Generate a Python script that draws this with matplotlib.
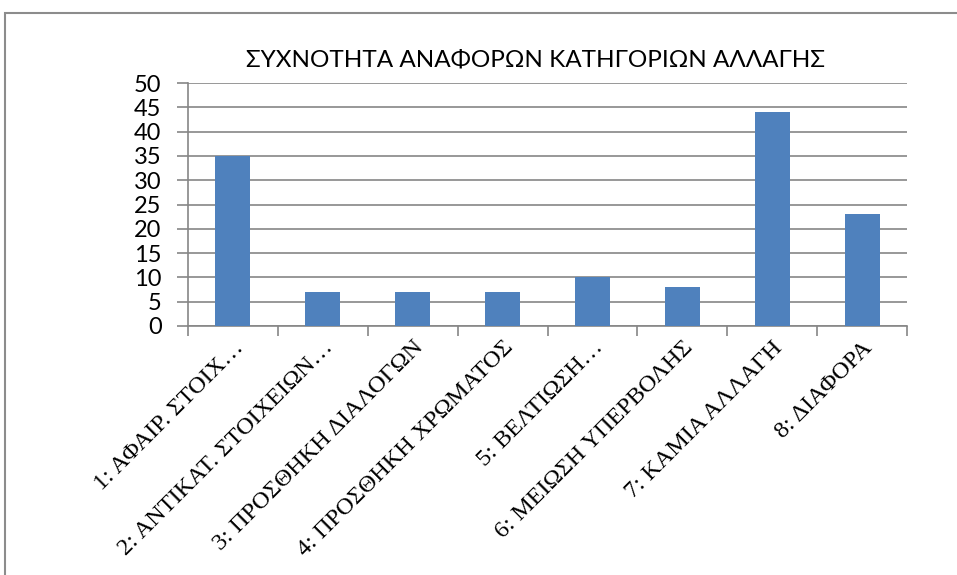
import matplotlib
matplotlib.use("Agg")
import matplotlib.pyplot as plt
from matplotlib.patches import Rectangle

categories = ["1: ΑΦΑΙΡ. ΣΤΟΙΧ…", "2: ΑΝΤΙΚΑΤ. ΣΤΟΙΧΕΙΩΝ…", "3: ΠΡΟΣΘΗΚΗ ΔΙΑΛΟΓΩΝ",
              "4: ΠΡΟΣΘΗΚΗ ΧΡΩΜΑΤΟΣ", "5: ΒΕΛΤΙΩΣΗ…", "6: ΜΕΙΩΣΗ ΥΠΕΡΒΟΛΗΣ",
              "7: ΚΑΜΙΑ ΑΛΛΑΓΗ", "8: ΔΙΑΦΟΡΑ"]
values = [35, 7, 7, 7, 10, 8, 44, 23]
yticks = [0, 5, 10, 15, 20, 25, 30, 35, 40, 45, 50]

title = "ΣΥΧΝΟΤΗΤΑ ΑΝΑΦΟΡΩΝ ΚΑΤΗΓΟΡΙΩΝ ΑΛΛΑΓΗΣ"
grid_c = "#868686"
sans = ["Lato", "DejaVu Sans"]

fig = plt.figure(figsize=(9.57, 5.75), dpi=100)
fig.patch.set_facecolor("white")

# outer chart-area border (cut off at right and bottom like the reference)
fig.patches.append(Rectangle((5/957, -0.1), 1.2, 1 - 13/575 + 0.1, transform=fig.transFigure,
                             fill=False, edgecolor="#8c8c8c", linewidth=1.5))

ax = fig.add_axes([188/957, 249/575, 719/957, 243/575])
x = list(range(len(values)))
ax.bar(x, values, width=0.39, color="#4F81BD", zorder=3)

ax.set_xlim(-0.5, len(values) - 0.5)
ax.set_ylim(0, 50)
ax.set_yticks(yticks)
ax.set_yticklabels([str(v) for v in yticks], fontsize=17, family=sans)
ax.yaxis.grid(True, color=grid_c, linewidth=1.2, zorder=0)
ax.tick_params(axis="y", length=8, color=grid_c, width=1.2, pad=11)

ax.set_xticks([i + 0.5 for i in x[:-1]] + [-0.5, len(values) - 0.5], minor=False)
ax.set_xticklabels([])
ax.set_xticks(x, minor=True)
ax.set_xticklabels(categories, minor=True, rotation=45, ha="right", va="top",
                   rotation_mode="anchor", fontsize=17.5, family="Liberation Serif")
ax.tick_params(axis="x", which="minor", length=0, pad=8)
ax.tick_params(axis="x", which="major", length=7, color=grid_c, width=1.2)

for s in ["top", "right"]:
    ax.spines[s].set_visible(False)
for s in ["left", "bottom"]:
    ax.spines[s].set_color(grid_c)
    ax.spines[s].set_linewidth(1.2)

fig.text(535/957, 1 - 60/575, title, ha="center", va="center", fontsize=17.5, family=sans)

fig.savefig("out.png", dpi=100)
